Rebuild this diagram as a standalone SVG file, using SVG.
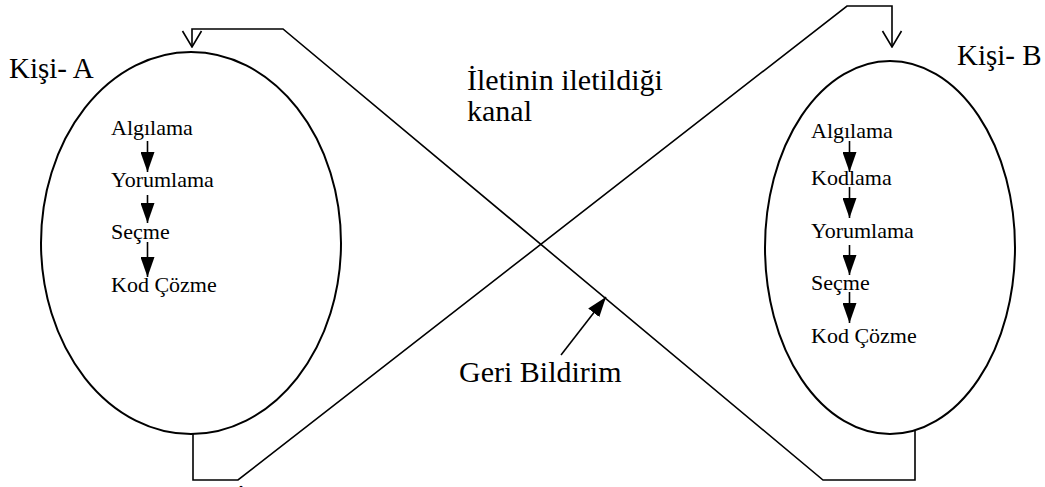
<svg xmlns="http://www.w3.org/2000/svg" width="1045" height="487" viewBox="0 0 1045 487">
<style>
.big{font-family:'Liberation Serif','Times New Roman',Times,'DejaVu Serif',serif;font-size:30px;fill:#000}
.lbl{font-family:'Liberation Serif','Times New Roman',Times,'DejaVu Serif',serif;font-size:29px;fill:#000}
.sm{font-family:'Liberation Serif','Times New Roman',Times,'DejaVu Serif',serif;font-size:22px;fill:#000}
.ln{fill:none;stroke:#000;stroke-width:1.6}
.el{fill:#fff;stroke:#000;stroke-width:2}
</style>
<defs>
<marker id="tri" viewBox="0 0 20 14" refX="20" refY="7" markerWidth="20" markerHeight="14" markerUnits="userSpaceOnUse" orient="auto">
<path d="M0,0 L20,7 L0,14 Z" fill="#000"/>
</marker>
<marker id="open" viewBox="0 0 18 22" refX="17" refY="11" markerWidth="18" markerHeight="22" markerUnits="userSpaceOnUse" orient="auto">
<path d="M1,1.5 L17,11 L1,20.5" fill="none" stroke="#000" stroke-width="1.6"/>
</marker>
</defs>
<rect width="1045" height="487" fill="#fff"/>
<g id="personA">
<ellipse class="el" cx="191" cy="243" rx="150" ry="191"/>
<text class="sm" x="111" y="135">Algılama</text>
<text class="sm" x="111" y="187">Yorumlama</text>
<text class="sm" x="111" y="239">Seçme</text>
<text class="sm" x="111" y="292">Kod Çözme</text>
<line class="ln" x1="147.5" y1="141" x2="147.5" y2="172" marker-end="url(#tri)"/>
<line class="ln" x1="147.5" y1="195" x2="147.5" y2="223" marker-end="url(#tri)"/>
<line class="ln" x1="147.5" y1="242" x2="147.5" y2="277" marker-end="url(#tri)"/>
</g>
<g id="personB">
<ellipse class="el" cx="890" cy="247.5" rx="125" ry="186.5"/>
<text class="sm" x="811" y="138">Algılama</text>
<text class="sm" x="811" y="185">Kodlama</text>
<text class="sm" x="811" y="238">Yorumlama</text>
<text class="sm" x="811" y="290">Seçme</text>
<text class="sm" x="811" y="343">Kod Çözme</text>
<line class="ln" x1="849.5" y1="141" x2="849.5" y2="172" marker-end="url(#tri)"/>
<line class="ln" x1="849.5" y1="187" x2="849.5" y2="218" marker-end="url(#tri)"/>
<line class="ln" x1="849.5" y1="245" x2="849.5" y2="275" marker-end="url(#tri)"/>
<line class="ln" x1="849.5" y1="292" x2="849.5" y2="323" marker-end="url(#tri)"/>
</g>
<g id="labelA"><text class="lbl" x="9" y="78">Kişi- A</text></g>
<g id="labelB"><text class="lbl" x="957" y="65">Kişi- B</text></g>
<g id="channel">
<text class="big" x="467" y="90">İletinin iletildiği</text>
<text class="big" x="467" y="121">kanal</text>
</g>
<g id="feedback"><text class="big" x="459" y="382">Geri Bildirim</text></g>
<g id="cut"><text class="big" x="236" y="510">İ</text></g>
<g id="connectors">
<path class="ln" d="M915,431 V480 H823 L283,29 H192 V47" marker-end="url(#open)"/>
<path class="ln" d="M193,434 V480 H238 L847,6 H892 V47" marker-end="url(#open)"/>
<line class="ln" x1="561" y1="355" x2="606" y2="297" marker-end="url(#tri)"/>
</g>
</svg>
